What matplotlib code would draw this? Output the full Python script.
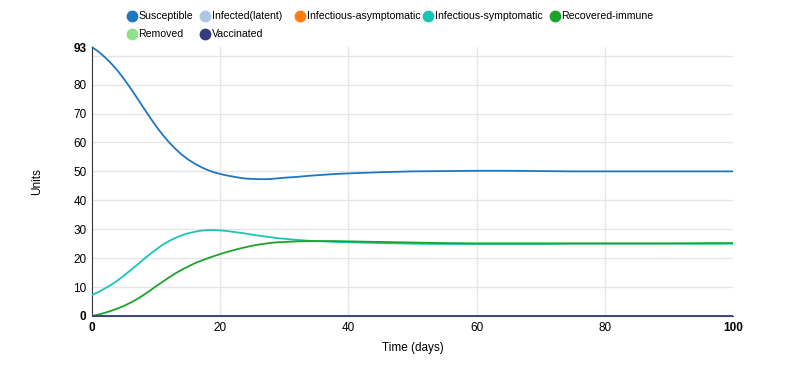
import matplotlib
matplotlib.use("Agg")
import matplotlib.pyplot as plt
from matplotlib.lines import Line2D

plt.rcParams['font.family'] = ['Liberation Sans', 'DejaVu Sans']

# time points (days) and series values
days = list(range(0, 31)) + [32, 34, 36, 38, 40, 45, 50, 55, 60, 65, 70, 75, 80, 90, 100]
susceptible = [93, 91.4, 89.5, 87.3, 84.8, 81.9, 78.8, 75.5, 72.1, 68.8, 65.6,
               62.7, 60.1, 57.8, 55.8, 54.1, 52.7, 51.5, 50.5, 49.7, 49.1,
               48.6, 48.2, 47.8, 47.5, 47.4, 47.3, 47.3, 47.4, 47.6, 47.8,
               48.1, 48.5, 48.8, 49.1, 49.3, 49.7, 50.0, 50.1, 50.2, 50.2,
               50.1, 50.0, 50.0, 50.0, 50.0]
symptomatic = [7.3, 8.3, 9.5, 10.8, 12.3, 14.0, 15.8, 17.6, 19.5, 21.3, 23.0,
               24.6, 25.9, 27.0, 27.9, 28.6, 29.1, 29.5, 29.7, 29.7, 29.6,
               29.4, 29.1, 28.8, 28.5, 28.1, 27.8, 27.5, 27.2, 26.9, 26.7,
               26.3, 26.0, 25.8, 25.6, 25.5, 25.2, 25.0, 24.9, 24.9, 24.9,
               24.9, 25.0, 25.0, 25.0, 25.0]
recovered = [0, 0.5, 1.1, 1.8, 2.6, 3.5, 4.6, 5.8, 7.2, 8.7, 10.3,
             11.8, 13.3, 14.7, 16.0, 17.1, 18.2, 19.1, 19.9, 20.7, 21.4,
             22.1, 22.7, 23.3, 23.8, 24.3, 24.7, 25.0, 25.3, 25.5, 25.6,
             25.8, 25.9, 25.9, 25.9, 25.8, 25.6, 25.4, 25.2, 25.1, 25.1,
             25.1, 25.1, 25.1, 25.1, 25.2]
latent = [0] * len(days)
asymptomatic = [0] * len(days)
removed = [0] * len(days)
vaccinated = [0] * len(days)

names = ['Susceptible', 'Infected(latent)', 'Infectious-asymptomatic',
         'Infectious-symptomatic', 'Recovered-immune', 'Removed', 'Vaccinated']
colors = ['#1f77c0', '#aec7e8', '#ff7f0e', '#1cc4b8', '#1ea32a', '#8fe28a', '#353b80']
series = [susceptible, latent, asymptomatic, symptomatic, recovered, removed, vaccinated]

W, H = 800, 368
fig = plt.figure(figsize=(8, 3.68), dpi=100)
ax = fig.add_axes([92 / W, 1 - 316 / H, (733 - 92) / W, (316 - 47) / H])

for s, c in zip(series, colors):
    ax.plot(days, s, color=c, lw=1.3, solid_capstyle='butt', clip_on=False, zorder=3)

ax.set_xlim(0, 100)
ax.set_ylim(0, 93)

# grid
for y in range(10, 100, 10):
    ax.axhline(y, color='#e6e6e6', lw=1, zorder=0)
for x in [20, 40, 60, 80]:
    ax.axvline(x, color='#e6e6e6', lw=1, zorder=0)

for sp in ['top', 'right']:
    ax.spines[sp].set_visible(False)
ax.spines['left'].set_color('#333333')
ax.spines['bottom'].set_color('#333333')

yticks = [0, 10, 20, 30, 40, 50, 60, 70, 80, 93]
ax.set_yticks(yticks)
ax.set_yticklabels([str(t) for t in yticks], fontsize=8.5)
xticks = [0, 20, 40, 60, 80, 100]
ax.set_xticks(xticks)
ax.set_xticklabels([str(t) for t in xticks], fontsize=8.5)
ax.tick_params(length=0, pad=4)
for lab in [ax.get_yticklabels()[0], ax.get_yticklabels()[-1],
            ax.get_xticklabels()[0], ax.get_xticklabels()[-1]]:
    lab.set_fontweight('bold')

ax.set_xlabel('Time (days)', fontsize=8.5, labelpad=6)
ax.set_ylabel('Units', fontsize=8.5, labelpad=22)

# legend laid out as in the reference
leg_x = [132, 205, 300, 428, 555, 132, 205]
leg_y = [16, 16, 16, 16, 16, 34, 34]
for name, c, lx, ly in zip(names, colors, leg_x, leg_y):
    fig.add_artist(Line2D([lx / W], [1 - ly / H], marker='o', markersize=7.5,
                          color=c, linestyle='none', transform=fig.transFigure))
    fig.text((lx + 6.5) / W, 1 - ly / H, name, fontsize=7.6, va='center', ha='left')

fig.savefig('out.png', dpi=100)
